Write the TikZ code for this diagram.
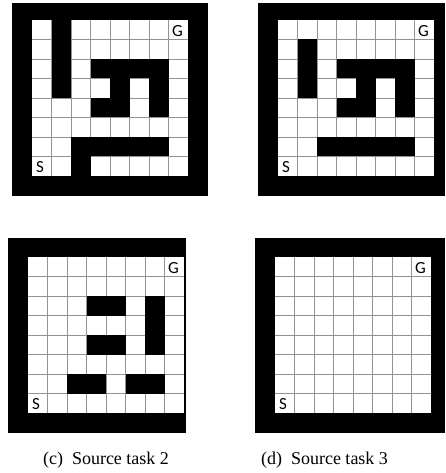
\documentclass[tikz,border=0pt]{standalone}
\usepackage{fontspec}
\setmainfont{Liberation Serif}
\newfontfamily\cellfont{Carlito}

\begin{document}
\begin{tikzpicture}[x=1pt,y=-1pt,
   wall/.style={fill=black},
   frame/.style={fill=black},
   cellgrid/.style={draw=gray!85,line width=0.7pt},
   cellmark/.style={font=\cellfont\fontsize{17}{17}\selectfont,inner sep=0pt},
   caption/.style={font=\fontsize{18}{18}\selectfont,inner sep=0pt}
]
\useasboundingbox (0,0) rectangle (445,473);

% top left world
\fill[frame] (12,3) rectangle (207.5,195.5);
\begin{scope}[shift={(32,20)}]
  \fill[white] (0,0) rectangle (156,156);
  \foreach \i in {1,...,7} {
    \draw[cellgrid] (\i*19.5,0) -- (\i*19.5,156);
    \draw[cellgrid] (0,\i*19.5) -- (156,\i*19.5);
  }
  \foreach \cx/\ry in {1/0,1/1,1/2,1/3,3/2,4/2,5/2,6/2,4/3,6/3,3/4,4/4,6/4,
                       2/6,3/6,4/6,5/6,6/6,2/7}
    \fill[wall] (\cx*19.5,\ry*19.5) rectangle ++(19.5,19.5);
  \node[cellmark,anchor=north east] (ga) at (151,5) {G};
  \node[cellmark,anchor=south west] (sa) at (4,153) {S};
\end{scope}

% top right world
\fill[frame] (258,3) rectangle (445,195.5);
\begin{scope}[shift={(278,20)}]
  \fill[white] (0,0) rectangle (156,156);
  \foreach \i in {1,...,7} {
    \draw[cellgrid] (\i*19.5,0) -- (\i*19.5,156);
    \draw[cellgrid] (0,\i*19.5) -- (156,\i*19.5);
  }
  \foreach \cx/\ry in {1/1,1/2,1/3,3/2,4/2,5/2,6/2,4/3,6/3,3/4,4/4,6/4,
                       2/6,3/6,4/6,5/6,6/6}
    \fill[wall] (\cx*19.5,\ry*19.5) rectangle ++(19.5,19.5);
  \node[cellmark,anchor=north east] (gb) at (151,5) {G};
  \node[cellmark,anchor=south west] (sb) at (4,153) {S};
\end{scope}

% source task 2
\fill[frame] (8,238) rectangle (185.5,432.5);
\begin{scope}[shift={(28,257)}]
  \fill[white] (0,0) rectangle (156,156);
  \foreach \i in {1,...,7} {
    \draw[cellgrid] (\i*19.5,0) -- (\i*19.5,156);
    \draw[cellgrid] (0,\i*19.5) -- (156,\i*19.5);
  }
  \foreach \cx/\ry in {3/2,4/2,6/2,6/3,3/4,4/4,6/4,2/6,3/6,5/6,6/6}
    \fill[wall] (\cx*19.5,\ry*19.5) rectangle ++(19.5,19.5);
  \node[cellmark,anchor=north east] (gc) at (151,5) {G};
  \node[cellmark,anchor=south west] (sc) at (4,153) {S};
\end{scope}

% source task 3
\fill[frame] (255,238) rectangle (445,432.5);
\begin{scope}[shift={(275,257)}]
  \fill[white] (0,0) rectangle (156,156);
  \foreach \i in {1,...,7} {
    \draw[cellgrid] (\i*19.5,0) -- (\i*19.5,156);
    \draw[cellgrid] (0,\i*19.5) -- (156,\i*19.5);
  }
  \node[cellmark,anchor=north east] (gd) at (151,5) {G};
  \node[cellmark,anchor=south west] (sd) at (4,153) {S};
\end{scope}

\node[caption,anchor=base] (capc) at (106,464) {(c)\ \ Source task 2};
\node[caption,anchor=base] (capd) at (324.5,464) {(d)\ \ Source task 3};

\end{tikzpicture}
\end{document}
